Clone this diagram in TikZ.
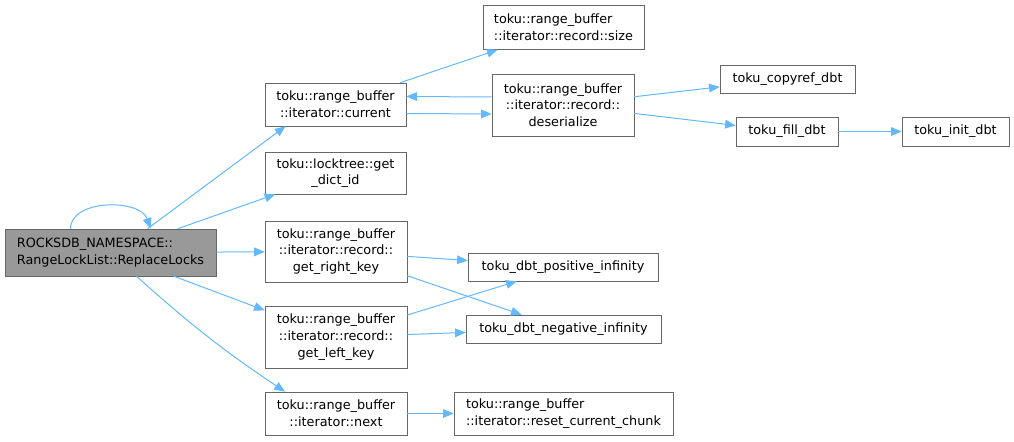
\documentclass[tikz,border=0pt]{standalone}
\usepackage{fontspec}
\setmainfont{DejaVu Sans}
\usetikzlibrary{positioning,arrows.meta,calc}
\definecolor{edgeblue}{HTML}{63B8FF}
\definecolor{boxgray}{HTML}{666666}
\definecolor{mainfill}{HTML}{999999}

\begin{document}
\begin{tikzpicture}[x=0.75pt, y=-0.75pt,
    block/.style={rectangle, draw=boxgray, fill=white, align=center, inner sep=0pt, font=\fontsize{9.6}{12.5}\selectfont},
    boxsize/.style 2 args={minimum width=#1*0.75pt, minimum height=#2*0.75pt},
    edge/.style={draw=edgeblue, line width=0.75pt, -{Triangle[length=8pt, width=6.5pt]}}]
    \useasboundingbox (0,0) rectangle (1014,442);

    \node[block, fill=mainfill, align=left, boxsize={211}{47}] (replace) at (110.5,252.5) {ROCKSDB\_NAMESPACE::\\RangeLockList::ReplaceLocks};
    \node[block, boxsize={141}{43}] (current) at (335.5,104.5) {toku::range\_buffer\\::iterator::current};
    \node[block, boxsize={141}{42}] (dictid) at (335.5,173) {toku::locktree::get\\\_dict\_id};
    \node[block, boxsize={142}{61}] (rightkey) at (336,251.5) {toku::range\_buffer\\::iterator::record::\\get\_right\_key};
    \node[block, boxsize={142}{62}] (leftkey) at (336,337) {toku::range\_buffer\\::iterator::record::\\get\_left\_key};
    \node[block, boxsize={142}{43}] (next) at (336,413.5) {toku::range\_buffer\\::iterator::next};
    \node[block, align=left, boxsize={161}{44}] (size) at (563.5,27.5) {toku::range\_buffer\\::iterator::record::size};
    \node[block, boxsize={142}{62}] (deser) at (563,105) {toku::range\_buffer\\::iterator::record::\\deserialize};
    \node[block, boxsize={135}{28}] (copyref) at (787.5,79) {toku\_copyref\_dbt};
    \node[block, boxsize={102}{29}] (filldbt) at (787,131.5) {toku\_fill\_dbt};
    \node[block, boxsize={107}{29}] (initdbt) at (955.5,131.5) {toku\_init\_dbt};
    \node[block, boxsize={190}{28}] (posinf) at (563,267) {toku\_dbt\_positive\_infinity};
    \node[block, boxsize={195}{28}] (neginf) at (563.5,329) {toku\_dbt\_negative\_infinity};
    \node[block, align=left, boxsize={219}{43}] (reset) at (563.5,413.5) {toku::range\_buffer\\::iterator::reset\_current\_chunk};

    \draw[edge] ($(replace.north)+(-40,0)$) .. controls +(0,-30) and +(-10,-30) .. ($(replace.north)+(40,0)$);
    \draw[edge] ($(replace.north)+(37,0)$) -- ($(current.south)+(-50,0)$);
    \draw[edge] (replace) -- (dictid);
    \draw[edge] (replace) -- (rightkey);
    \draw[edge] (replace) -- (leftkey);
    \draw[edge] ($(replace.south)+(26,0)$) to[bend right=4] ($(next.north)+(-51,0)$);
    \draw[edge] (current) -- (size);
    \draw[edge] ($(current.east)+(0,9)$) -- ($(deser.west)+(0,9)$);
    \draw[edge] ($(deser.west)+(0,-8)$) -- ($(current.east)+(0,-8)$);
    \draw[edge] (deser) -- (copyref);
    \draw[edge] (deser) -- (filldbt);
    \draw[edge] (filldbt) -- (initdbt);
    \draw[edge] (rightkey) -- (posinf);
    \draw[edge] (rightkey) -- (neginf);
    \draw[edge] (leftkey) -- (posinf);
    \draw[edge] (leftkey) -- (neginf);
    \draw[edge] (next) -- (reset);
\end{tikzpicture}
\end{document}
